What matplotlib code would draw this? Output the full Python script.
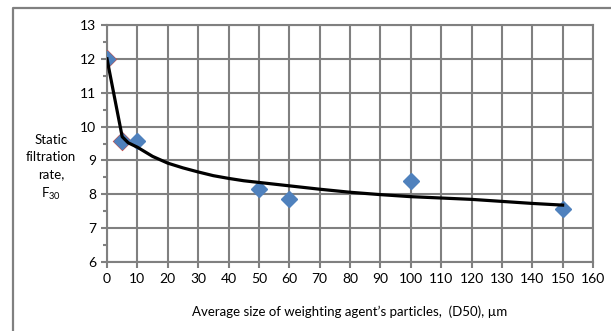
import matplotlib.pyplot as plt
from matplotlib.lines import Line2D

# measured points
size_um = [0, 5, 10, 50, 60, 100, 150]
rate = [12, 9.56, 9.56, 8.16, 7.86, 8.38, 7.56]

# first two points, red hollow series
size_red = [0, 5]
rate_red = [12, 9.56]

# black trend line
trend_x = [0, 5, 7, 10, 15, 20, 25, 30, 35, 40, 45, 50, 60, 70, 80, 90, 100, 110, 120, 130, 140, 150]
trend_y = [12, 9.7, 9.52, 9.39, 9.12, 8.92, 8.78, 8.66, 8.55, 8.47, 8.40, 8.35, 8.25, 8.15, 8.06, 7.99, 7.93, 7.89, 7.85, 7.79, 7.73, 7.68]

xticks = list(range(0, 161, 10))
yticks = list(range(6, 14))

plt.rcParams['font.family'] = ['Lato', 'DejaVu Sans']
plt.rcParams['mathtext.default'] = 'regular'
grey = '#808080'

fig = plt.figure(figsize=(6.11, 3.31), dpi=100)
ax = fig.add_axes([107 / 611, 1 - 262 / 331, 486 / 611, 237 / 331])

# outer chart frame (right/bottom cut off)
fx, fy = 13 / 611, 1 - 8 / 331
fig.add_artist(Line2D([fx, fx, 1.0], [0.0, fy, fy], transform=fig.transFigure, color=grey, lw=1.6))

ax.plot(size_red, rate_red, linestyle='none', marker='D', markersize=8.5,
        markerfacecolor='none', markeredgecolor='#C0504D', markeredgewidth=1.8, zorder=3)
ax.plot(size_um, rate, linestyle='none', marker='D', markersize=8,
        color='#4F81BD', zorder=4)
ax.plot(trend_x, trend_y, color='black', lw=2.3, zorder=5)

ax.set_xlim(0, 160)
ax.set_ylim(6, 13)
ax.set_xticks(xticks)
ax.set_yticks(yticks)
ax.set_yticks([y + 0.5 for y in yticks[:-1]], minor=True)
ax.grid(True, which='major', color=grey, linewidth=1.5)
ax.set_axisbelow(True)
for s in ax.spines.values():
    s.set_color(grey)
    s.set_linewidth(1.5)
ax.tick_params(axis='both', which='major', length=4, width=1.5, color=grey, labelsize=10, pad=4)
ax.tick_params(axis='y', which='minor', length=3, width=1.5, color=grey)

fig.text(51 / 611, 1 - 168 / 331, 'Static\nfiltration\nrate,\n$F_{30}$', ha='center', va='center',
         fontsize=9.5, linespacing=1.5)
fig.text(350 / 611, 1 - 312 / 331, 'Average size of weighting agent\u2019s particles,  (D50), \u00b5m',
         ha='center', va='center', fontsize=9.5)

plt.savefig('out.png', dpi=100)
